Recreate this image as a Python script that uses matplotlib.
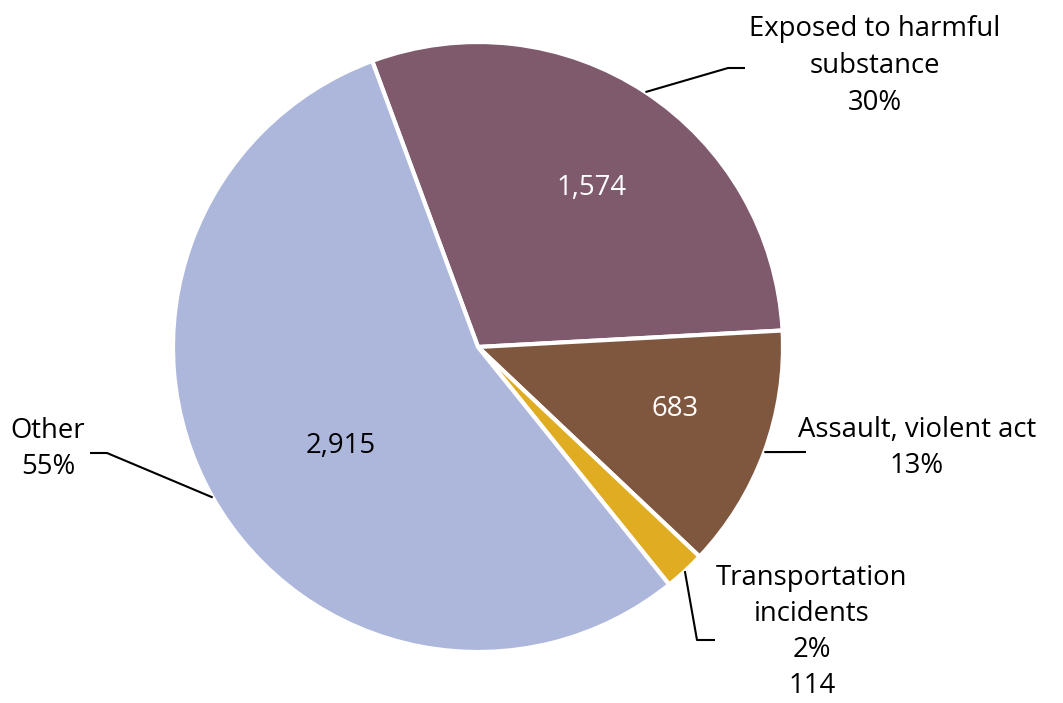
import numpy as np
import matplotlib.pyplot as plt

# data
categories = ['Exposed to harmful\nsubstance', 'Assault, violent act', 'Transportation\nincidents', 'Other']
counts = [1574, 683, 114, 2915]
percents = ['30%', '13%', '2%', '55%']
colors = ['#7f5a6d', '#7f573f', '#e0ac22', '#adb7db']

plt.rcParams['font.family'] = ['Open Sans', 'DejaVu Sans']

fig = plt.figure(figsize=(10.63, 7.03), dpi=100)
ax = fig.add_axes([0, 0, 1, 1])

wedges, _ = ax.pie(counts, colors=colors, startangle=110.3, counterclock=False,
                   radius=1.0, wedgeprops=dict(edgecolor='white', linewidth=3))

# pixel-ish layout: centre at (478, 347), radius 305 px
R = 305.0
ax.set_xlim(-478 / R, (1063 - 478) / R)
ax.set_ylim((347 - 703) / R, 347 / R)
ax.set_aspect('equal')
ax.axis('off')

def mid(w):
    a = np.deg2rad((w.theta1 + w.theta2) / 2)
    return np.cos(a), np.sin(a)

def px(x, y):
    return (x - 478) / R, (347 - y) / R

fs = 19.8
ls = 1.42

# inner value labels
ax.text(*px(592, 188), f'{counts[0]:,}', ha='center', va='center', color='white', fontsize=fs)
ax.text(*px(675, 409), f'{counts[1]:,}', ha='center', va='center', color='white', fontsize=fs)
ax.text(*px(341, 446), f'{counts[3]:,}', ha='center', va='center', color='black', fontsize=fs)

def leader(pts):
    xs = [p[0] for p in pts]
    ys = [p[1] for p in pts]
    ax.plot(xs, ys, color='black', lw=1.5, solid_capstyle='butt')

# Exposed
mx, my = mid(wedges[0])
leader([(mx, my), px(728, 68), px(745, 68)])
ax.text(*px(875, 66), categories[0] + '\n' + percents[0], ha='center', va='center',
        fontsize=fs, linespacing=ls)

# Assault
mx, my = mid(wedges[1])
leader([(mx, my), px(806, 452)])
ax.text(*px(917, 448), categories[1] + '\n' + percents[1], ha='center', va='center',
        fontsize=fs, linespacing=ls)

# Transportation
mx, my = mid(wedges[2])
leader([(mx, my), px(697, 640), px(715, 640)])
ax.text(*px(812, 632), categories[2] + '\n' + percents[2] + '\n' + f'{counts[2]:,}',
        ha='center', va='center', fontsize=fs, linespacing=1.39)

# Other
mx, my = mid(wedges[3])
leader([(mx, my), px(107, 453), px(90, 453)])
ax.text(*px(48, 449), 'Other\n' + percents[3], ha='center', va='center',
        fontsize=fs, linespacing=ls)

fig.savefig('out.png', dpi=100)
